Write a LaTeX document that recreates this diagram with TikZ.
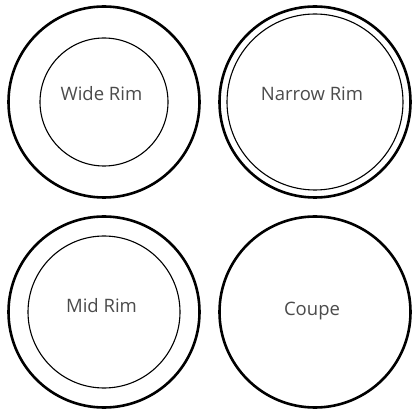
\documentclass[tikz,border=0pt]{standalone}
\usepackage{fontspec}
\setmainfont{Open Sans}
\definecolor{txt}{RGB}{75,75,75}
\begin{document}
\begin{tikzpicture}[x=1pt,y=-1pt,
  outer/.style={circle,draw=black,line width=2.6pt,minimum size=191pt,inner sep=0pt},
  innerc/.style={circle,draw=black,line width=1.1pt,inner sep=0pt},
  lbl/.style={anchor=base,text=txt,font=\fontsize{18.5}{22}\selectfont}]
\useasboundingbox (0,0) rectangle (412,411);
% Wide rim
\node[outer] (wo) at (104,102) {};
\node[innerc,minimum size=128pt] (wi) at (104,102) {};
\node[lbl] (wt) at (101.5,101) {Wide Rim};
% Narrow rim
\node[outer] (no) at (315,102) {};
\node[innerc,minimum size=176pt] (ni) at (315,102) {};
\node[lbl] (nt) at (312,101) {Narrow Rim};
% Mid rim
\node[outer] (mo) at (104,312) {};
\node[innerc,minimum size=152pt] (mi) at (104,312) {};
\node[lbl] (mt) at (101.5,312.5) {Mid Rim};
% Coupe
\node[outer] (co) at (315,312) {};
\node[lbl] (ct) at (312,316) {Coupe};
\end{tikzpicture}
\end{document}
